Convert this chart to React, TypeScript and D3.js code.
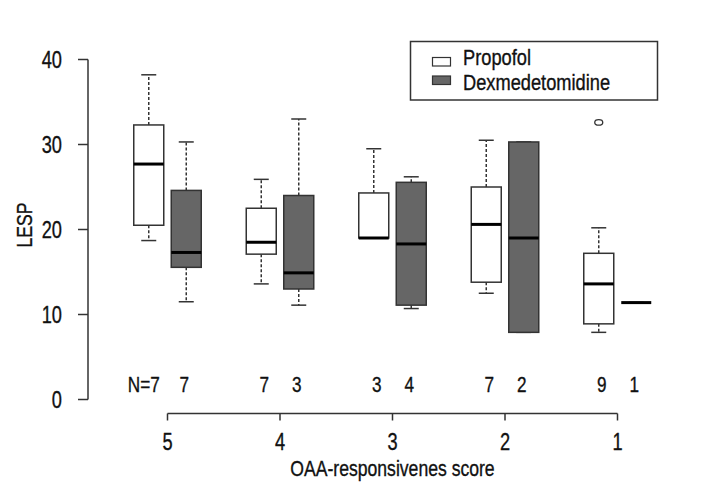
import React from "react";
import * as d3 from "d3";

const groups = ["5", "4", "3", "2", "1"];
const seriesNames = ["Propofol", "Dexmedetomidine"];

const propofolLow = [18.7, 13.6, 19.0, 12.5, 7.9];
const propofolQ1 = [20.5, 17.1, 19.0, 13.8, 8.9];
const propofolMed = [27.7, 18.5, 19.0, 20.6, 13.6];
const propofolQ3 = [32.3, 22.5, 24.3, 25.0, 17.2];
const propofolHigh = [38.2, 25.9, 29.5, 30.5, 20.2];
const propofolOut: number[][] = [[], [], [], [], [32.6]];
const propofolN = [7, 7, 3, 7, 9];

const dexLow = [11.5, 11.1, 10.7, 7.9, 11.4];
const dexQ1 = [15.55, 13.0, 11.1, 7.9, 11.4];
const dexMed = [17.3, 14.9, 18.3, 19.0, 11.4];
const dexQ3 = [24.6, 24.0, 25.55, 30.3, 11.4];
const dexHigh = [30.3, 33.0, 26.2, 30.3, 11.4];
const dexOut: number[][] = [[], [], [], [], []];
const dexN = [7, 3, 4, 2, 1];

const yTicks = [0, 10, 20, 30, 40];

const FONT = "'Liberation Sans', Arial, sans-serif";
const SX = 0.8;
const fills = ["#ffffff", "#666666"];
const STROKE = "#333333";

function T(props: { x: number; y: number; size: number; anchor?: string; rotate?: number; sx?: number; children: React.ReactNode }) {
  const { x, y, size, anchor = "start", rotate = 0, sx = SX, children } = props;
  return (
    <text
      transform={`translate(${x},${y})${rotate ? ` rotate(${rotate})` : ""} scale(${sx},1)`}
      textAnchor={anchor}
      fontSize={size}
      fontFamily={FONT}
      fill="#111"
      stroke="#111"
      strokeWidth={0.35}
    >
      {children}
    </text>
  );
}

export default function App() {
  const x = d3.scalePoint<string>().domain(groups).range([167.5, 617.5]);
  const y = d3.scaleLinear().domain([0, 40]).range([399.5, 59.5]);
  const boxW = 30;
  const offset = 18.75;
  const capW = 15;

  const series = [
    { low: propofolLow, q1: propofolQ1, med: propofolMed, q3: propofolQ3, high: propofolHigh, out: propofolOut, n: propofolN },
    { low: dexLow, q1: dexQ1, med: dexMed, q3: dexQ3, high: dexHigh, out: dexOut, n: dexN },
  ];

  const boxes: React.ReactNode[] = [];
  const nLabels: React.ReactNode[] = [];
  groups.forEach((g, gi) => {
    series.forEach((s, si) => {
      const cx = (x(g) as number) + (si === 0 ? -offset : offset);
      const key = `${gi}-${si}`;
      boxes.push(
        <g key={key}>
          <line x1={cx} x2={cx} y1={y(s.q3[gi])} y2={y(s.high[gi])} stroke={STROKE} strokeWidth={1.5} strokeDasharray="3,2" />
          <line x1={cx} x2={cx} y1={y(s.q1[gi])} y2={y(s.low[gi])} stroke={STROKE} strokeWidth={1.5} strokeDasharray="3,2" />
          <line x1={cx - capW / 2} x2={cx + capW / 2} y1={y(s.high[gi])} y2={y(s.high[gi])} stroke={STROKE} strokeWidth={1.5} />
          <line x1={cx - capW / 2} x2={cx + capW / 2} y1={y(s.low[gi])} y2={y(s.low[gi])} stroke={STROKE} strokeWidth={1.5} />
          <rect x={cx - boxW / 2} y={y(s.q3[gi])} width={boxW} height={Math.max(0, y(s.q1[gi]) - y(s.q3[gi]))} fill={fills[si]} stroke={STROKE} strokeWidth={1.5} />
          <line x1={cx - boxW / 2} x2={cx + boxW / 2} y1={y(s.med[gi])} y2={y(s.med[gi])} stroke="#000" strokeWidth={3} />
          {s.out[gi].map((v, oi) => (
            <ellipse key={oi} cx={cx} cy={y(v)} rx={4} ry={2.8} fill="none" stroke={STROKE} strokeWidth={1.3} />
          ))}
        </g>
      );
      const first = gi === 0 && si === 0;
      const label = first ? `N=${s.n[gi]}` : `${s.n[gi]}`;
      nLabels.push(
        <T key={"n" + key} x={cx + (first ? -5 : si === 0 ? 3 : -2)} y={392} size={22} anchor="middle" sx={0.78}>
          {label}
        </T>
      );
    });
  });

  return (
    <svg width={720} height={489} style={{ position: "absolute", left: 0, top: 0, background: "#fff" }}>
      <rect x={0} y={0} width={720} height={489} fill="#fff" />
      {/* y axis */}
      <line x1={88} x2={88} y1={y(0)} y2={y(40)} stroke={STROKE} strokeWidth={1.5} />
      {yTicks.map((t) => (
        <g key={t}>
          <line x1={78} x2={88} y1={y(t)} y2={y(t)} stroke={STROKE} strokeWidth={1.5} />
          <T x={62} y={y(t) + 8.5} size={24} anchor="end" sx={0.76}>
            {t}
          </T>
        </g>
      ))}
      <T x={32} y={225} size={22} anchor="middle" rotate={-90}>
        LESP
      </T>
      {/* x axis */}
      <line x1={x(groups[0])} x2={x(groups[groups.length - 1])} y1={413.5} y2={413.5} stroke={STROKE} strokeWidth={1.5} />
      {groups.map((g) => (
        <g key={g}>
          <line x1={x(g)} x2={x(g)} y1={413.5} y2={420.5} stroke={STROKE} strokeWidth={1.5} />
          <T x={x(g) as number} y={450} size={24} anchor="middle" sx={0.76}>
            {g}
          </T>
        </g>
      ))}
      <T x={(x(groups[0])! + x(groups[groups.length - 1])!) / 2} y={476} size={22} anchor="middle">
        OAA-responsivenes score
      </T>
      {boxes}
      {nLabels}
      {/* legend */}
      <rect x={410.5} y={41.5} width={247} height={58.5} fill="#fff" stroke={STROKE} strokeWidth={1.5} />
      {seriesNames.map((name, i) => (
        <g key={name}>
          <rect x={432.5} y={57.5 + i * 18.5} width={18} height={8.5} fill={fills[i]} stroke={STROKE} strokeWidth={1.2} />
          <T x={463} y={64.5 + i * 25.5} size={22} sx={0.83}>
            {name}
          </T>
        </g>
      ))}
    </svg>
  );
}
